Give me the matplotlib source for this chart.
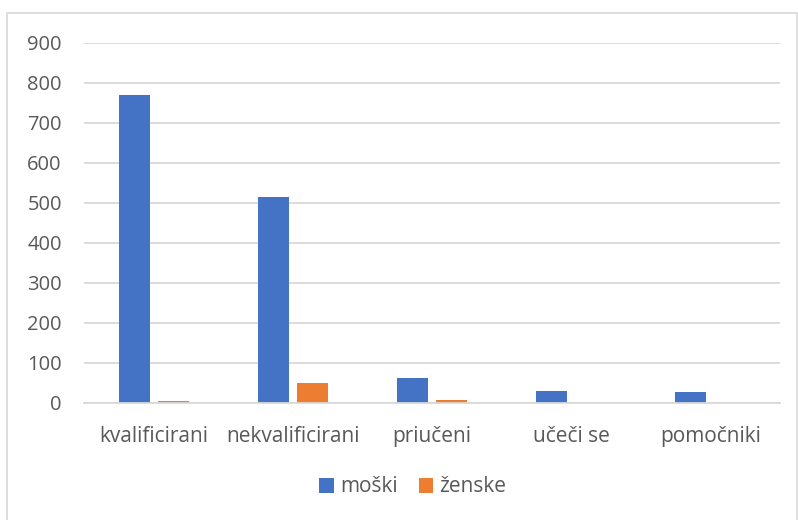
import matplotlib
matplotlib.use("Agg")
import matplotlib.pyplot as plt
import numpy as np
from matplotlib.patches import Rectangle

categories = ["kvalificirani", "nekvalificirani", "priučeni", "učeči se", "pomočniki"]
moski = [770, 515, 63, 30, 26]
zenske = [4, 49, 6, 0, 0]
series_names = ["moški", "ženske"]
colors = ["#4472C4", "#ED7D31"]
yticks = [0, 100, 200, 300, 400, 500, 600, 700, 800, 900]

plt.rcParams['font.family'] = ['Open Sans', 'DejaVu Sans']
text_color = "#595959"

fig = plt.figure(figsize=(7.98, 5.2), dpi=100)
fig.patches.append(Rectangle((7/798, -0.01), (797-7)/798, 1 - 13/520 + 0.01,
                             transform=fig.transFigure, fill=False,
                             edgecolor="#d9d9d9", linewidth=1.2))
ax = fig.add_axes([84/798, 1-402.7/520, (780-84)/798, (402.7-43)/520])

x = np.arange(len(categories))
w = 0.223
off = 0.14
ax.bar(x - off, moski, width=w, color=colors[0], label=series_names[0], zorder=3)
ax.bar(x + off, zenske, width=w, color=colors[1], label=series_names[1], zorder=3)

ax.set_xlim(-0.5, len(categories) - 0.5)
ax.set_ylim(0, 900)
ax.set_yticks(yticks)
ax.set_yticklabels([str(v) for v in yticks])
ax.set_xticks(x)
ax.set_xticklabels(categories)
ax.tick_params(axis='both', length=0, colors=text_color)
ax.tick_params(axis='y', pad=16, labelsize=14.5)
ax.tick_params(axis='x', pad=17, labelsize=15)
ax.grid(axis='y', color="#d9d9d9", linewidth=1.3, zorder=0)
for s in ["top", "right", "left"]:
    ax.spines[s].set_visible(False)
ax.spines["bottom"].set_color("#d9d9d9")
ax.spines["bottom"].set_linewidth(1.3)
ax.spines["bottom"].set_zorder(4)

leg = fig.legend(loc="center", bbox_to_anchor=(413/798, 1-487/520), ncol=2,
                 frameon=False, fontsize=15, handlelength=0.7, handleheight=0.7,
                 handletextpad=0.3, columnspacing=1.0)
for t in leg.get_texts():
    t.set_color(text_color)

fig.savefig("out.png", dpi=100)
